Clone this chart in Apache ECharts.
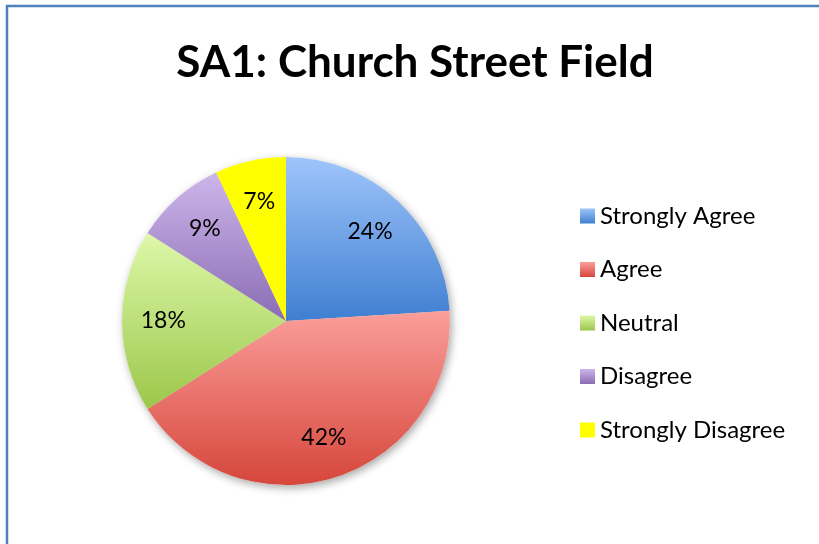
<!DOCTYPE html>
<html>
<head>
<meta charset="utf-8">
<script src="https://cdn.jsdelivr.net/npm/echarts@6/dist/echarts.min.js"></script>
<style>
  html, body { margin: 0; padding: 0; background: #fff; }
  #chart { width: 819px; height: 544px; }
</style>
</head>
<body>
<div id="chart"></div>
<script>
const categories = ["Strongly Agree", "Agree", "Neutral", "Disagree", "Strongly Disagree"];
const percents = [24, 42, 18, 9, 7];
// top / bottom colour of each slice's vertical gradient
const topColors = ["#9fc5fb", "#fb9e9a", "#ddf8a9", "#cdb6ea", "#ffff00"];
const bottomColors = ["#3f7fd1", "#d6463b", "#9cc74a", "#8a6cb4", "#ffff00"];

const grad = (i) => new echarts.graphic.LinearGradient(0, 0, 0, 1, [
  { offset: 0, color: topColors[i] },
  { offset: 1, color: bottomColors[i] },
]);

const font = "Lato, 'Open Sans', sans-serif";
const center = [286, 321];
const radius = 164;

const chart = echarts.init(document.getElementById("chart"), null, { renderer: "canvas" });
chart.setOption({
  animation: false,
  title: {
    text: "SA1: Church Street Field",
    left: 415,
    top: 41,
    textAlign: "center",
    padding: 0,
    textStyle: { fontFamily: font, fontWeight: "bold", fontSize: 44, color: "#000" },
  },
  legend: {
    orient: "vertical",
    left: 580,
    top: 204,
    padding: 0,
    itemWidth: 15,
    itemHeight: 15,
    itemGap: 29.5,
    icon: "rect",
    selectedMode: false,
    data: categories,
    textStyle: { fontFamily: font, fontSize: 24, color: "#000" },
  },
  graphic: [{
    type: "rect",
    shape: { x: 7, y: 6, width: 900, height: 700 },
    style: { fill: "none", stroke: "#4f81bd", lineWidth: 2.5 },
    silent: true,
  }],
  series: [
    {
      name: "main",
      type: "pie",
      z: 3,
      center: center,
      radius: radius,
      startAngle: 90,
      clockwise: true,
      silent: true,
      label: { show: false },
      labelLine: { show: false },
      data: categories.map((name, i) => ({ name, value: percents[i], itemStyle: { color: grad(i) } })),
    },
    {
      name: "shadow",
      type: "pie",
      z: 1,
      center: center,
      radius: radius,
      startAngle: 90,
      silent: true,
      label: { show: false },
      labelLine: { show: false },
      itemStyle: {
        color: "#fff",
        shadowBlur: 8,
        shadowColor: "rgba(0,0,0,0.35)",
        shadowOffsetX: 2,
        shadowOffsetY: 3,
      },
      data: categories.map((name, i) => ({ name, value: percents[i] })),
    },
    {
      name: "labels",
      type: "pie",
      z: 4,
      center: center,
      radius: [radius * 0.46, radius],
      startAngle: 90,
      silent: true,
      itemStyle: { color: "rgba(0,0,0,0)" },
      label: {
        show: true,
        position: "inside",
        formatter: "{c}%",
        fontFamily: font,
        fontSize: 23,
        color: "#000",
      },
      labelLine: { show: false },
      data: categories.map((name, i) => ({ name, value: percents[i] })),
    },
  ],
});
</script>
</body>
</html>
